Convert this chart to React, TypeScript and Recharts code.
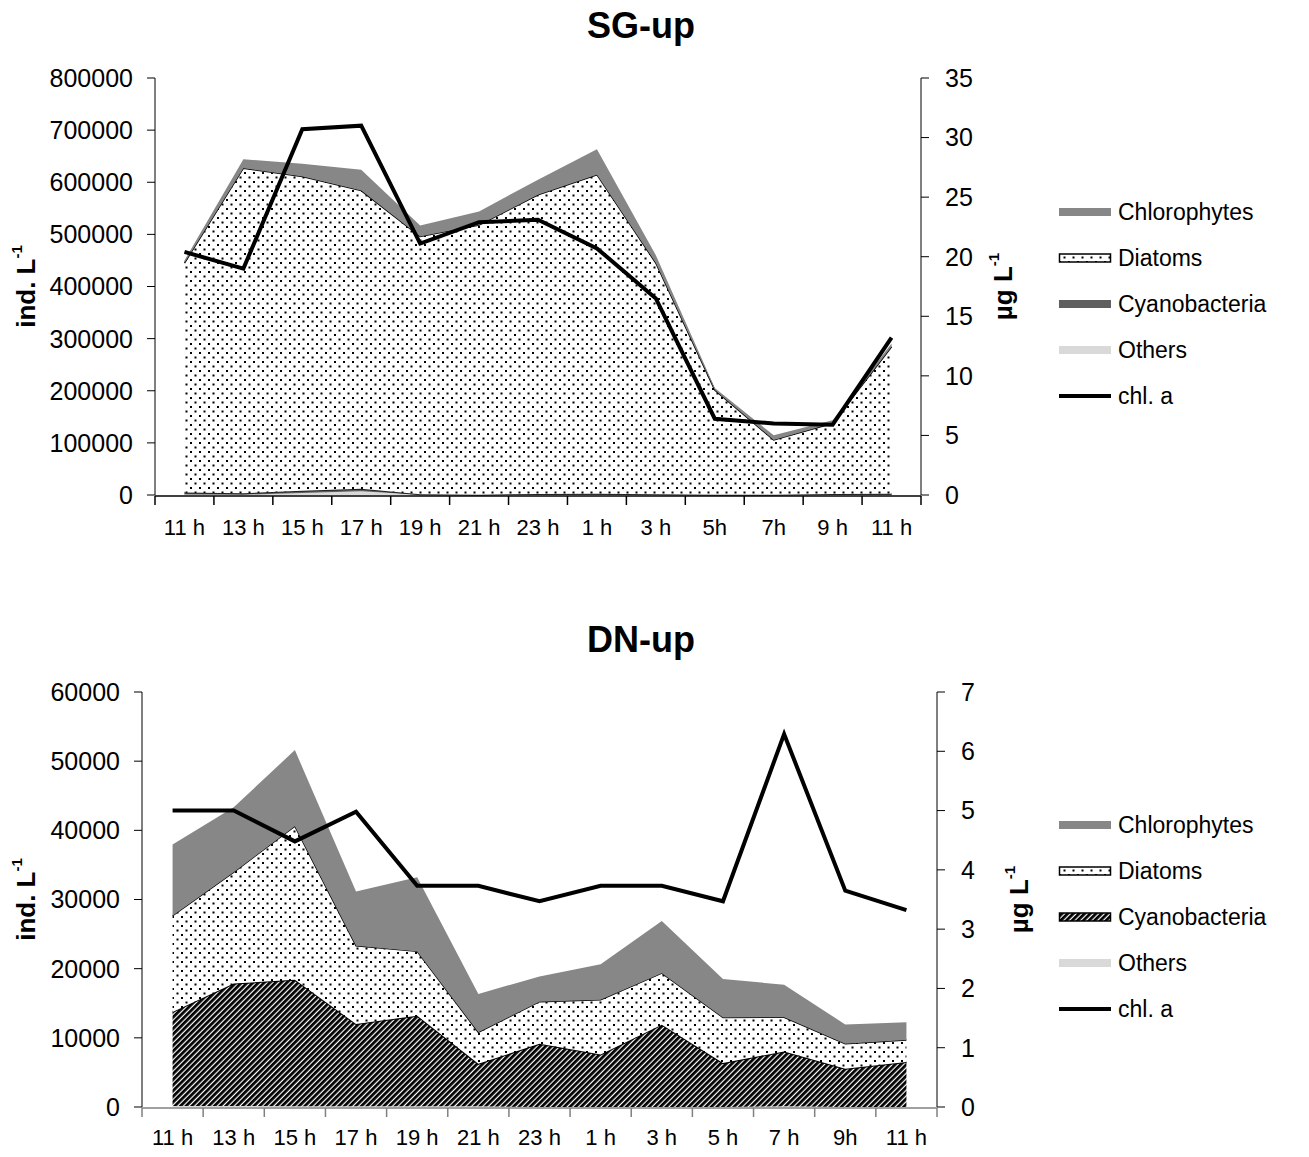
import React from 'react';
import { ComposedChart, Area, Line, XAxis, YAxis, Legend } from 'recharts';

const FONT = '"Liberation Sans", Arial, Helvetica, sans-serif';

// sampling times (x categories)
const sgHours = ['11 h', '13 h', '15 h', '17 h', '19 h', '21 h', '23 h', '1 h', '3 h', '5h', '7h', '9 h', '11 h'];
const dnHours = ['11 h', '13 h', '15 h', '17 h', '19 h', '21 h', '23 h', '1 h', '3 h', '5 h', '7 h', '9h', '11 h'];

// SG-up, ind. L-1 (stacked) and chl. a in µg L-1
const sgOthers = [1000, 500, 4000, 7000, 500, 0, 0, 0, 0, 0, 0, 0, 0];
const sgCyano = [4000, 3000, 4000, 5000, 1000, 500, 2000, 2500, 1500, 500, 500, 2000, 2500];
const sgDiatoms = [440000, 623500, 603000, 572000, 494500, 517500, 574000, 612000, 443500, 201000, 105000, 135500, 282000];
const sgChloro = [5000, 17000, 24500, 40000, 21000, 26000, 29000, 49000, 15000, 4000, 9000, 6000, 6000];
const sgChl = [20.4, 19.0, 30.7, 31.0, 21.1, 22.9, 23.1, 20.7, 16.5, 6.4, 6.0, 5.9, 13.2];

// DN-up
const dnOthers = [150, 150, 100, 100, 100, 100, 0, 0, 0, 0, 100, 0, 0];
const dnCyano = [13600, 17700, 18300, 11900, 13100, 6150, 9130, 7600, 11900, 6350, 7930, 5530, 6490];
const dnDiatoms = [13900, 16100, 22200, 11300, 9300, 4550, 6100, 7900, 7450, 6600, 4950, 3600, 3200];
const dnChloro = [10300, 9400, 11000, 7850, 10700, 5550, 3650, 5150, 7550, 5550, 4700, 2800, 2550];
const dnChl = [5.0, 5.0, 4.48, 4.98, 3.73, 3.73, 3.47, 3.73, 3.73, 3.47, 6.29, 3.65, 3.32];

const sgLeftTicks = [0, 100000, 200000, 300000, 400000, 500000, 600000, 700000, 800000];
const sgRightTicks = [0, 5, 10, 15, 20, 25, 30, 35];
const dnLeftTicks = [0, 10000, 20000, 30000, 40000, 50000, 60000];
const dnRightTicks = [0, 1, 2, 3, 4, 5, 6, 7];

const buildRows = (hours: string[], others: number[], cyano: number[], diatoms: number[], chloro: number[], chl: number[]) =>
    hours.map((h, i) => ({ i, hour: h, others: others[i], cyano: cyano[i], diatoms: diatoms[i], chloro: chloro[i], chl: chl[i] }));

type LegendItem = { name: string; kind: 'fill' | 'pattern' | 'line'; color?: string; pattern?: string };

function LegendBox({ items }: { items: LegendItem[] }) {
    return (
        <div style={{ fontFamily: FONT, fontSize: 23, color: '#000' }}>
            {items.map(it => (
                <div key={it.name} style={{ display: 'flex', alignItems: 'center', height: 46 }}>
                    <svg width={54} height={14} style={{ marginRight: 6, flex: 'none' }}>
                        {it.kind === 'fill' && <rect x={1} y={3} width={52} height={8} fill={it.color} />}
                        {it.kind === 'pattern' && <rect x={1.5} y={3} width={51} height={8} fill={`url(#${it.pattern})`} stroke="#000" strokeWidth={1.5} />}
                        {it.kind === 'line' && <line x1={1} y1={7} x2={53} y2={7} stroke="#000" strokeWidth={4} />}
                    </svg>
                    <span>{it.name}</span>
                </div>
            ))}
        </div>
    );
}

function AxisTitle({ viewBox, dx, text }: any) {
    const cx = viewBox.x + dx;
    const cy = viewBox.y + viewBox.height / 2;
    return (
        <text x={cx} y={cy} transform={`rotate(-90 ${cx} ${cy})`} textAnchor="middle" dominantBaseline="central"
            fontFamily={FONT} fontSize={26} fontWeight="bold" fill="#000">
            {text}<tspan dy={-10} fontSize={15}>-1</tspan>
        </text>
    );
}

// tick mark between two categories, drawn at the tick position the axis hands over
function BoundTick({ x, y, color }: any) {
    return <line x1={x} y1={y} x2={x} y2={y + 9} stroke={color} strokeWidth={1.5} />;
}

interface PanelProps {
    id: string;
    title: string;
    top: number;
    rows: ReturnType<typeof buildRows>;
    hours: string[];
    leftTicks: number[];
    rightTicks: number[];
    margin: { top: number; right: number; bottom: number; left: number };
    leftWidth: number;
    xAxisColor: string;
    xLabelGap: number;
    titleY: number;
    legendTop: number;
    hatchCyano: boolean;
}

function Panel(p: PanelProps) {
    const n = p.hours.length;
    const centers = p.hours.map((_, i) => i);
    const bounds = [...p.hours.map((_, i) => i - 0.5), n - 0.5];
    const legendItems: LegendItem[] = [
        { name: 'Chlorophytes', kind: 'fill', color: '#878787' },
        { name: 'Diatoms', kind: 'pattern', pattern: `dots-${p.id}` },
        p.hatchCyano
            ? { name: 'Cyanobacteria', kind: 'pattern', pattern: `hatch-${p.id}` }
            : { name: 'Cyanobacteria', kind: 'fill', color: '#5f5f5f' },
        { name: 'Others', kind: 'fill', color: '#d9d9d9' },
        { name: 'chl. a', kind: 'line' },
    ];

    return (
        <div style={{ position: 'absolute', left: 0, top: p.top, width: 1309, height: 560 }}>
            <div style={{
                position: 'absolute', left: 0, width: 1282, top: p.titleY - 21, height: 42, lineHeight: '42px',
                textAlign: 'center', fontFamily: FONT, fontWeight: 'bold', fontSize: 36, color: '#000',
            }}>{p.title}</div>
            <ComposedChart width={1309} height={560} data={p.rows} margin={p.margin}>
                <defs>
                    <pattern id={`dots-${p.id}`} width={9} height={9} patternUnits="userSpaceOnUse">
                        <rect width={9} height={9} fill="#fff" />
                        <rect x={1} y={1} width={2} height={2} fill="#000" />
                        <rect x={5.5} y={5.5} width={2} height={2} fill="#000" />
                    </pattern>
                    <pattern id={`hatch-${p.id}`} width={4} height={4} patternUnits="userSpaceOnUse" patternTransform="rotate(45)">
                        <rect width={4} height={4} fill="#fff" />
                        <rect width={2.8} height={4} fill="#000" />
                    </pattern>
                </defs>
                <Area yAxisId="l" type="linear" dataKey="others" stackId="s" fill="#d9d9d9" fillOpacity={1} stroke="none" isAnimationActive={false} />
                <Area yAxisId="l" type="linear" dataKey="cyano" stackId="s"
                    fill={p.hatchCyano ? `url(#hatch-${p.id})` : '#5f5f5f'} fillOpacity={1}
                    stroke={p.hatchCyano ? '#000' : '#222'} strokeWidth={2} isAnimationActive={false} />
                <Area yAxisId="l" type="linear" dataKey="diatoms" stackId="s" fill={`url(#dots-${p.id})`} fillOpacity={1}
                    stroke="#000" strokeWidth={1.5} isAnimationActive={false} />
                <Area yAxisId="l" type="linear" dataKey="chloro" stackId="s" fill="#878787" fillOpacity={1} stroke="none" isAnimationActive={false} />
                <Line yAxisId="r" type="linear" dataKey="chl" stroke="#000" strokeWidth={4} dot={false} isAnimationActive={false} />
                <XAxis
                    xAxisId="b"
                    dataKey="i"
                    type="number"
                    domain={[-0.5, n - 0.5]}
                    allowDataOverflow
                    ticks={bounds}
                    interval={0}
                    height={1}
                    tickLine={false}
                    tickSize={0}
                    tickMargin={0}
                    tick={<BoundTick color={p.xAxisColor} />}
                    axisLine={{ stroke: p.xAxisColor, strokeWidth: 1.5 }}
                />
                <XAxis
                    dataKey="i"
                    type="number"
                    domain={[-0.5, n - 0.5]}
                    allowDataOverflow
                    ticks={centers}
                    interval={0}
                    height={1}
                    axisLine={false}
                    tickLine={false}
                    tickSize={0}
                    tickMargin={p.xLabelGap}
                    tick={{ fill: '#000', fontSize: 22, fontFamily: FONT }}
                    tickFormatter={(v: number) => p.hours[v] ?? ''}
                />
                <YAxis
                    yAxisId="l"
                    width={p.leftWidth}
                    domain={[p.leftTicks[0], p.leftTicks[p.leftTicks.length - 1]]}
                    ticks={p.leftTicks}
                    interval={0}
                    tickSize={8}
                    tickMargin={14}
                    stroke="#000"
                    tick={{ fill: '#000', fontSize: 25, fontFamily: FONT }}
                    tickFormatter={(v: number) => String(v)}
                    label={(props: any) => <AxisTitle {...props} dx={26} text="ind. L" />}
                />
                <YAxis
                    yAxisId="r"
                    orientation="right"
                    width={100}
                    domain={[p.rightTicks[0], p.rightTicks[p.rightTicks.length - 1]]}
                    ticks={p.rightTicks}
                    interval={0}
                    tickSize={8}
                    tickMargin={16}
                    stroke="#000"
                    tick={{ fill: '#000', fontSize: 25, fontFamily: FONT }}
                    label={(props: any) => <AxisTitle {...props} dx={82} text="µg L" />}
                />
                <Legend
                    layout="vertical"
                    align="center"
                    verticalAlign="middle"
                    wrapperStyle={{ left: 1058, top: p.legendTop, width: 250, height: 230 }}
                    content={() => <LegendBox items={legendItems} />}
                />
            </ComposedChart>
        </div>
    );
}

export default function App() {
    const sgRows = buildRows(sgHours, sgOthers, sgCyano, sgDiatoms, sgChloro, sgChl);
    const dnRows = buildRows(dnHours, dnOthers, dnCyano, dnDiatoms, dnChloro, dnChl);
    return (
        <div style={{ position: 'relative', width: 1309, height: 1157, margin: -8, overflow: 'hidden', background: '#fff' }}>
            <Panel
                id="sg" title="SG-up" top={0} rows={sgRows} hours={sgHours}
                leftTicks={sgLeftTicks} rightTicks={sgRightTicks}
                margin={{ top: 78, right: 288, bottom: 63, left: 0 }} leftWidth={155}
                xAxisColor="#000" xLabelGap={24} titleY={26} legendTop={189} hatchCyano={false}
            />
            <Panel
                id="dn" title="DN-up" top={600} rows={dnRows} hours={dnHours}
                leftTicks={dnLeftTicks} rightTicks={dnRightTicks}
                margin={{ top: 92, right: 272, bottom: 51, left: 0 }} leftWidth={142}
                xAxisColor="#808080" xLabelGap={22} titleY={40} legendTop={202} hatchCyano={true}
            />
        </div>
    );
}
